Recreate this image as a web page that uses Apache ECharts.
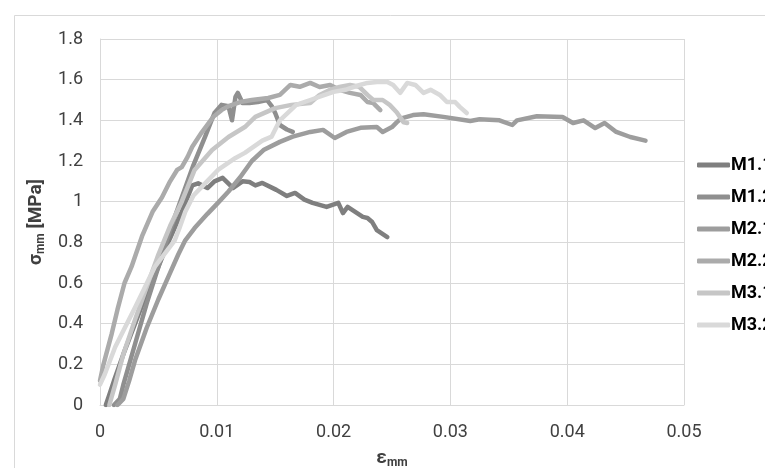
<!DOCTYPE html>
<html><head><meta charset="utf-8">
<script src="https://cdn.jsdelivr.net/npm/echarts@6/dist/echarts.min.js"></script>
<style>html,body{margin:0;padding:0;background:#fff}#c{width:765px;height:468px}</style>
</head><body><div id="c"></div>
<script>
const seriesNames = ['M1.1','M1.2','M2.1','M2.2','M3.1','M3.2'];
const xTicks = [0,0.01,0.02,0.03,0.04,0.05];
const yTicks = [0,0.2,0.4,0.6,0.8,1,1.2,1.4,1.6,1.8];

const m11 = [[0.0005,0],[0.0008,0.05],[0.0012,0.12],[0.002,0.25],[0.003,0.4],[0.004,0.55],[0.005,0.68],[0.006,0.82],[0.007,0.95],[0.0079,1.08],[0.0084,1.09],[0.0092,1.067],[0.0098,1.1],[0.0105,1.117],[0.0114,1.067],[0.0122,1.1],[0.0128,1.097],[0.0133,1.08],[0.0139,1.092],[0.0151,1.058],[0.016,1.028],[0.0167,1.043],[0.0175,1.01],[0.0182,0.994],[0.0194,0.974],[0.0204,0.994],[0.0208,0.944],[0.0212,0.974],[0.0225,0.925],[0.0229,0.92],[0.0233,0.9],[0.0237,0.86],[0.0246,0.826]];
const m12 = [[0.0012,0],[0.0017,0.03],[0.002,0.1],[0.003,0.3],[0.004,0.5],[0.005,0.68],[0.006,0.86],[0.007,1.02],[0.008,1.18],[0.009,1.32],[0.0098,1.436],[0.0104,1.476],[0.011,1.47],[0.0113,1.4],[0.0116,1.515],[0.0118,1.535],[0.0122,1.485],[0.0128,1.485],[0.0135,1.49],[0.0143,1.5],[0.0147,1.47],[0.015,1.436],[0.0154,1.377],[0.016,1.355],[0.0165,1.343]];
const m21 = [[0.0015,0],[0.002,0.03],[0.0025,0.12],[0.003,0.22],[0.004,0.38],[0.005,0.52],[0.006,0.65],[0.0067,0.74],[0.0073,0.81],[0.0081,0.87],[0.0092,0.94],[0.0101,0.994],[0.011,1.05],[0.012,1.12],[0.013,1.2],[0.014,1.254],[0.0154,1.294],[0.0165,1.32],[0.018,1.343],[0.0191,1.353],[0.0201,1.313],[0.0211,1.343],[0.0223,1.363],[0.0237,1.367],[0.0242,1.343],[0.025,1.367],[0.0254,1.39],[0.0258,1.41],[0.0268,1.426],[0.0277,1.43],[0.0294,1.417],[0.0317,1.397],[0.0325,1.405],[0.0342,1.4],[0.0353,1.377],[0.0357,1.4],[0.0374,1.42],[0.0396,1.416],[0.0405,1.387],[0.0414,1.4],[0.0424,1.362],[0.0432,1.387],[0.0442,1.343],[0.0454,1.318],[0.0467,1.3]];
const m22 = [[0,0.12],[0.0003,0.2],[0.001,0.35],[0.0015,0.47],[0.0021,0.6],[0.0027,0.68],[0.0036,0.83],[0.0045,0.95],[0.0053,1.02],[0.006,1.1],[0.0066,1.156],[0.007,1.17],[0.0075,1.22],[0.0079,1.27],[0.0087,1.34],[0.0097,1.417],[0.0104,1.45],[0.011,1.47],[0.012,1.49],[0.013,1.5],[0.0144,1.51],[0.0154,1.525],[0.0163,1.574],[0.0171,1.565],[0.018,1.584],[0.0188,1.564],[0.0197,1.574],[0.0205,1.55],[0.0214,1.535],[0.0223,1.525],[0.0229,1.49],[0.0234,1.485],[0.024,1.45]];
const m31 = [[0.0008,0],[0.0013,0.1],[0.002,0.25],[0.003,0.42],[0.004,0.58],[0.005,0.74],[0.006,0.88],[0.007,1.0],[0.0081,1.156],[0.0096,1.254],[0.011,1.318],[0.0124,1.367],[0.0133,1.417],[0.015,1.46],[0.0164,1.476],[0.018,1.485],[0.0188,1.525],[0.0197,1.55],[0.0205,1.564],[0.0214,1.574],[0.0222,1.565],[0.0229,1.525],[0.0234,1.5],[0.0242,1.5],[0.0248,1.476],[0.0254,1.44],[0.026,1.39],[0.0263,1.387]];
const m32 = [[0,0.1],[0.0004,0.15],[0.0013,0.285],[0.003,0.48],[0.0047,0.68],[0.0064,0.81],[0.0068,0.87],[0.0073,0.95],[0.008,1.03],[0.009,1.09],[0.0101,1.156],[0.0116,1.215],[0.0124,1.24],[0.0139,1.3],[0.0147,1.32],[0.0154,1.4],[0.0168,1.476],[0.018,1.5],[0.019,1.52],[0.02,1.54],[0.021,1.55],[0.022,1.57],[0.0229,1.584],[0.0237,1.589],[0.0246,1.589],[0.0251,1.574],[0.0257,1.535],[0.0263,1.584],[0.027,1.574],[0.0277,1.535],[0.0283,1.55],[0.0291,1.525],[0.0297,1.49],[0.0304,1.49],[0.0308,1.466],[0.0314,1.436]];

const seriesData = [m11,m12,m21,m22,m31,m32];
const colors = ['#7f7f7f','#8f8f8f','#9d9d9d','#ababab','#c6c6c6','#d9d9d9'];

const chart = echarts.init(document.getElementById('c'), null, {renderer:'canvas'});
const font = 'Roboto, "Noto Sans", sans-serif';
const richName = {
  a:{fontFamily:font,fontSize:19,fontWeight:'bold',color:'#404040'},
  b:{fontFamily:font,fontSize:12,fontWeight:'bold',color:'#404040', padding:[10,0,0,0]}
};
chart.setOption({
  animation:false,
  backgroundColor:'#fff',
  color: colors,
  textStyle:{fontFamily:font},
  graphic:[{type:'rect', left:12, top:13, shape:{width:800,height:500}, style:{fill:'none', stroke:'#d9d9d9', lineWidth:1}, silent:true, z:-1}],
  grid:{left:100, right:81, top:39, bottom:63, containLabel:false, outerBoundsMode:'none'},
  legend:{
    orient:'vertical', left:692, top:150, itemWidth:33, itemHeight:5, itemGap:12,
    icon:'roundRect',
    textStyle:{fontFamily:font, fontSize:18, fontWeight:'bold', color:'#000', padding:[0,0,0,-4], lineHeight:20},
    data: seriesNames
  },
  xAxis:{
    type:'value', min:xTicks[0], max:xTicks[xTicks.length-1], interval:0.01,
    axisLine:{show:true, lineStyle:{color:'#d9d9d9'}}, axisTick:{show:false},
    splitLine:{show:true, lineStyle:{color:'#d9d9d9'}},
    axisLabel:{fontFamily:font, fontSize:18, color:'#404040', margin:18, formatter:v=>String(+v.toFixed(2))},
    name:'{a|ε}{b|mm}', nameLocation:'middle', nameGap:42,
    nameTextStyle:{rich:richName}
  },
  yAxis:{
    type:'value', min:yTicks[0], max:yTicks[yTicks.length-1], interval:0.2,
    axisLine:{show:true, lineStyle:{color:'#d9d9d9'}}, axisTick:{show:false},
    splitLine:{show:true, lineStyle:{color:'#d9d9d9'}},
    axisLabel:{fontFamily:font, fontSize:18, color:'#404040', margin:17, formatter:v=>String(+v.toFixed(1))},
    name:'{a|σ}{b|mm}{a| [MPa]}', nameLocation:'middle', nameGap:46, nameRotate:90,
    nameTextStyle:{rich:richName}
  },
  series: seriesData.map((d,i)=>({
    name: seriesNames[i], type:'line', data:d, showSymbol:false, symbol:'none',
    lineStyle:{width:4.5, color:colors[i], cap:'round', join:'round'}, smooth:false
  }))
});
</script></body></html>
